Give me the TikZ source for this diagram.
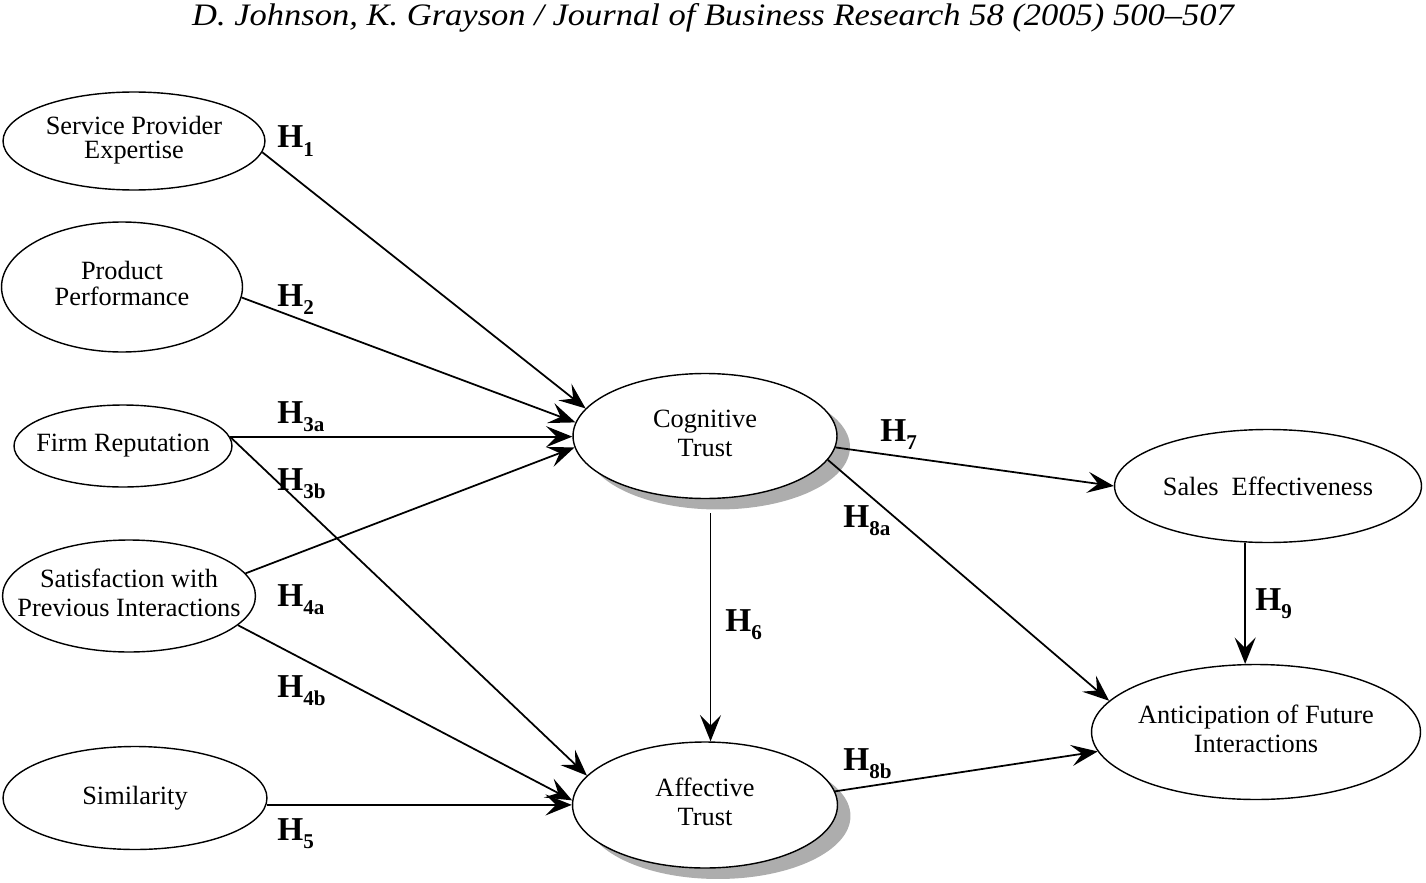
\documentclass[tikz,border=0pt]{standalone}
\usepackage{fontspec}
\setmainfont{Liberation Serif}
\usetikzlibrary{shapes.geometric,shadows,arrows.meta}
\newcommand{\hyp}[1]{\textbf{H}\raisebox{-5pt}{\fontsize{12}{12}\selectfont\bfseries #1}}
\newcommand{\twoline}[2]{\makebox[0pt]{\begin{tabular}{@{}c@{}}#1\\#2\end{tabular}}}
\tikzset{
  construct/.style={ellipse, draw, line width=0.8pt, fill=white, inner sep=0pt, font=\fontsize{15}{17}\selectfont},
  shadowed/.style={drop shadow={shadow xshift=0.26cm, shadow yshift=-0.22cm, fill=black!32, opacity=1}},
  hyplabel/.style={anchor=base west, inner sep=0pt, font=\fontsize{19}{19}\selectfont},
  link/.style={line width=1pt, -{Stealth[length=15pt, width=12pt, inset=6pt]}}
}
\begin{document}
\begin{tikzpicture}[x=0.02cm, y=-0.02cm]
\useasboundingbox (0,0) rectangle (1426,882);
\node[anchor=base, inner sep=0pt] (head) at (713,26) {\resizebox{20.84cm}{0.44cm}{\itshape D. Johnson, K. Grayson / Journal of Business Research 58 (2005) 500–507}};
\node[construct, minimum width=5.24cm, minimum height=1.96cm, font=\fontsize{15}{14}\selectfont] (spe) at (134,141) {\twoline{Service Provider}{Expertise}};
\node[construct, minimum width=4.82cm, minimum height=2.6cm, font=\fontsize{15}{14}\selectfont] (pp) at (122,287) {\twoline{Product}{Performance}};
\node[construct, minimum width=4.36cm, minimum height=1.64cm] (fr) at (123,446) {\makebox[0pt]{Firm Reputation}};
\node[construct, minimum width=5.06cm, minimum height=2.24cm] (sat) at (129,596) {\twoline{Satisfaction with}{Previous Interactions}};
\node[construct, minimum width=5.28cm, minimum height=2.06cm] (sim) at (135,798) {Similarity};
\node[construct, shadowed, minimum width=5.28cm, minimum height=2.5cm] (ct) at (705,436) {\twoline{Cognitive}{Trust}};
\node[construct, shadowed, minimum width=5.3cm, minimum height=2.52cm] (at) at (705,805) {\twoline{Affective}{Trust}};
\node[construct, minimum width=6.14cm, minimum height=2.26cm] (se) at (1268,486) {\makebox[0pt]{Sales\ \ Effectiveness}};
\node[construct, minimum width=6.58cm, minimum height=2.7cm] (ant) at (1256,732) {\twoline{Anticipation of Future}{Interactions}};
\draw[link] (spe.-5) -- (ct.167);
\draw[link] (pp.-5) -- (ct.174);
\draw[link] (fr.5) -- (fr.5 -| ct.west);
\draw[link] (fr.5) -- (at.166);
\draw[link] (sat.11) -- (ct.185);
\draw[link] (sat.-15) -- (at.178);
\draw[link] (sim.-3) -- (sim.-3 -| at.west);
\draw[link, shorten <=0.28cm] (ct.-85) -- (ct.-85 |- at.north);
\draw[link] (ct.-5) -- (se.west);
\draw[link] (ct.-11) -- (ant.168);
\draw[link] (at.6) -- (ant.187);
\draw[link] (se.-112) -- (se.-112 |- ant.north);
\node[hyplabel] (h1) at (277,148) {\hyp{1}};
\node[hyplabel] (h2) at (277,306) {\hyp{2}};
\node[hyplabel] (h3a) at (277,423) {\hyp{3a}};
\node[hyplabel] (h3b) at (277,490) {\hyp{3b}};
\node[hyplabel] (h4a) at (277,606) {\hyp{4a}};
\node[hyplabel] (h4b) at (277,697) {\hyp{4b}};
\node[hyplabel] (h5) at (277,840) {\hyp{5}};
\node[hyplabel] (h6) at (725,631) {\hyp{6}};
\node[hyplabel] (h7) at (880,441) {\hyp{7}};
\node[hyplabel] (h8a) at (843,527) {\hyp{8a}};
\node[hyplabel] (h8b) at (843,770) {\hyp{8b}};
\node[hyplabel] (h9) at (1255,610) {\hyp{9}};
\end{tikzpicture}
\end{document}
